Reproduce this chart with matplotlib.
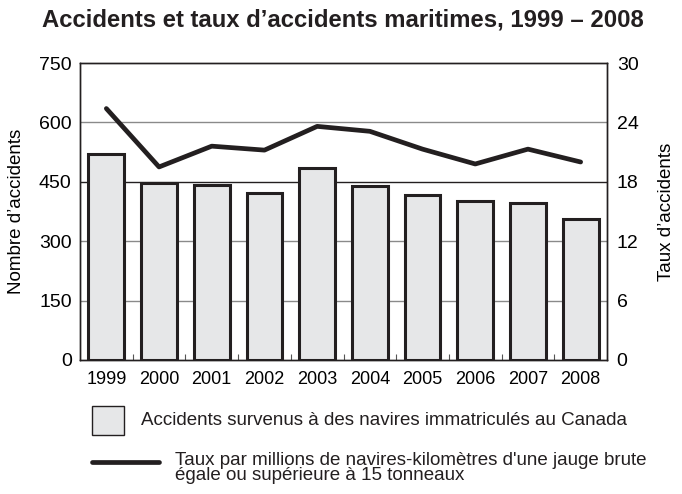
import matplotlib
matplotlib.use("Agg")
import matplotlib.pyplot as plt
from matplotlib.patches import Rectangle
from matplotlib.lines import Line2D

years = ["1999", "2000", "2001", "2002", "2003", "2004", "2005", "2006", "2007", "2008"]
accidents = [520, 446, 441, 421, 484, 440, 416, 401, 396, 356]
taux = [25.4, 19.5, 21.6, 21.2, 23.6, 23.1, 21.3, 19.8, 21.3, 20.0]
left_ticks = [0, 150, 300, 450, 600, 750]
right_ticks = [0, 6, 12, 18, 24, 30]

plt.rcParams["font.family"] = ["Liberation Sans", "DejaVu Sans"]
dark = "#231f20"

W, H = 682, 494
fig = plt.figure(figsize=(W/100, H/100), dpi=100)
ax = fig.add_axes([80/W, 1-360/H, 527/W, 297/H])
x = list(range(len(years)))

for yv in left_ticks[1:-1]:
    ax.axhline(yv, color=dark if yv == 450 else "#8a8a8a", lw=1.0, zorder=0)

ax.bar(x, accidents, width=0.68, color="#e6e7e8", edgecolor=dark, linewidth=2.2, zorder=2)
ax.set_xlim(-0.5, len(years) - 0.5)
ax.set_ylim(0, 750)
ax.set_yticks(left_ticks)
ax.set_xticks(x)
ax.set_xticklabels(years)
ax.set_xticks([i + 0.5 for i in x[:-1]], minor=True)
ax.tick_params(axis="x", which="major", length=0, labelsize=13, pad=8)
ax.tick_params(axis="x", which="minor", length=4, direction="in", width=0.8, color="#555555")
ax.tick_params(axis="y", length=0, labelsize=14, pad=6)
ax.set_ylabel("Nombre d’accidents", fontsize=13.5, labelpad=10)
for s in ax.spines.values():
    s.set_linewidth(1.0)
    s.set_color(dark)

ax2 = ax.twinx()
ax2.plot(x, taux, color=dark, lw=3.4, solid_capstyle="round", zorder=3)
ax2.set_ylim(0, 30)
ax2.set_yticks(right_ticks)
ax2.tick_params(axis="y", length=0, labelsize=14, pad=7)
ax2.set_ylabel("Taux d’accidents", fontsize=13.5, labelpad=14)
for s in ax2.spines.values():
    s.set_linewidth(1.0)
    s.set_color(dark)

fig.text(343/W, 1-20/H, "Accidents et taux d’accidents maritimes, 1999 – 2008",
         ha="center", va="center", fontsize=17.2, fontweight="bold", color=dark)

# legend
fig.patches.append(Rectangle((92/W, 1-435/H), 32/W, 29/H, transform=fig.transFigure,
                             facecolor="#e6e7e8", edgecolor=dark, lw=1.0))
fig.text(141/W, 1-420/H, "Accidents survenus à des navires immatriculés au Canada",
         ha="left", va="center", fontsize=13.5, color=dark)
fig.lines.append(Line2D([92/W, 159/W], [1-462/H, 1-462/H], transform=fig.transFigure,
                        color=dark, lw=3.4, solid_capstyle="round"))
fig.text(175/W, 1-468/H,
         "Taux par millions de navires-kilomètres d'une jauge brute\négale ou supérieure à 15 tonneaux",
         ha="left", va="center", fontsize=13.5, linespacing=0.88, color=dark)

fig.savefig("out.png", dpi=100)
